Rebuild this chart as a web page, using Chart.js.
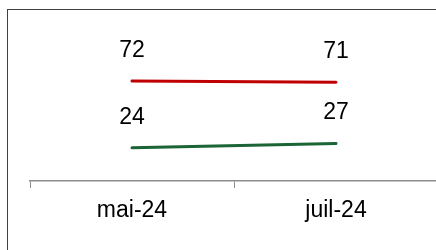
<!DOCTYPE html>
<html>
<head>
<meta charset="utf-8">
<script src="https://cdn.jsdelivr.net/npm/chart.js@4"></script>
<style>
  html, body { margin: 0; padding: 0; overflow: hidden; background: #fff; }
  #frame { position: absolute; left: 7px; top: 9px; width: 500px; height: 300px; border: 1.5px solid #404040; }
  #chart { position: absolute; left: 0; top: 0; }
</style>
</head>
<body>
<div id="frame"></div>
<canvas id="chart" width="446" height="250"></canvas>
<script>
var categories = ['mai-24', 'juil-24'];
var redValues = [72, 71];
var greenValues = [24, 27];

// value labels above each point
var pointLabels = {
	id: 'pointLabels',
	afterDatasetsDraw: function(chart) {
		var ctx = chart.ctx;
		ctx.save();
		ctx.font = '23px "Liberation Sans", Arial, sans-serif';
		ctx.fillStyle = '#000';
		ctx.textAlign = 'center';
		ctx.textBaseline = 'alphabetic';
		chart.data.datasets.forEach(function(ds, i) {
			chart.getDatasetMeta(i).data.forEach(function(pt, j) {
				ctx.fillText(String(ds.data[j]), pt.x, pt.y - 24);
			});
		});
		ctx.restore();
	}
};

new Chart(document.getElementById('chart'), {
	type: 'line',
	data: {
		labels: categories,
		datasets: [{
			data: redValues,
			borderColor: '#C00000',
			borderWidth: 3,
			borderCapStyle: 'round',
			pointRadius: 0
		}, {
			data: greenValues,
			borderColor: '#1B6436',
			borderWidth: 3,
			borderCapStyle: 'round',
			pointRadius: 0
		}]
	},
	options: {
		responsive: false,
		animation: false,
		devicePixelRatio: 1,
		layout: { padding: { left: 30, right: 8, top: 42, bottom: 0 } },
		plugins: { legend: false, tooltip: { enabled: false } },
		scales: {
			x: {
				offset: true,
				grid: {
					offset: true,
					drawOnChartArea: false,
					drawTicks: true,
					tickLength: 7,
					color: '#8C8C8C'
				},
				border: { color: '#8C8C8C', width: 1.5 },
				ticks: {
					color: '#000',
					padding: 9,
					font: { family: '"Liberation Sans", Arial, sans-serif', size: 23 }
				},
				afterFit: function(scale) { scale.height = 69; }
			},
			y: { display: false, min: 0, max: 100 }
		}
	},
	plugins: [pointLabels]
});
</script>
</body>
</html>
